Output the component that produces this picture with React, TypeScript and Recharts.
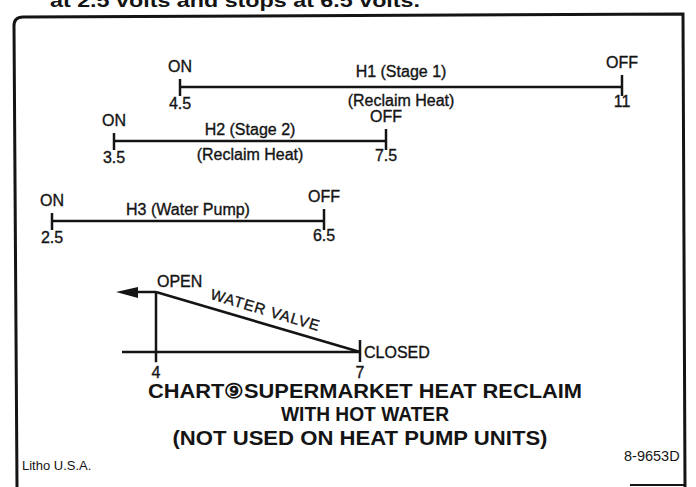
import React from "react";
import { ComposedChart, Line, XAxis, YAxis, ReferenceDot, ReferenceLine } from "recharts";

// stage bars: volts where each stage switches on / off
const stageNames = ["H1 (Stage 1)", "H2 (Stage 2)", "H3 (Water Pump)"];
const stageNotes = ["(Reclaim Heat)", "(Reclaim Heat)", ""];
const stageOn = [4.5, 3.5, 2.5];
const stageOff = [11, 7.5, 6.5];
const stageOnLabels = ["4.5", "3.5", "2.5"];
const stageOffLabels = ["11", "7.5", "6.5"];

// water valve: opening vs volts (1 = open, 0 = closed)
const valveVolts = [4, 7];
const valveOpening = [1, 0];
const valveStates = ["OPEN", "CLOSED"];
const valveTickLabels = ["4", "7"];
const valveAxisStart = 3.5;

const titleLines = [
  "CHART\u2468SUPERMARKET HEAT RECLAIM",
  "WITH HOT WATER",
  "(NOT USED ON HEAT PUMP UNITS)",
];

const FONT = '"Liberation Sans", Arial, Helvetica, sans-serif';
const INK = "#141414";
const VOLTS: [number, number] = [2, 12];
const CHART_W = 680; // 68 px per volt
const ROW_H = 80;

// where each row sits on the sheet (it's a scanned drawing, rows aren't perfectly aligned)
const rowLeft = [10, 12, 18];
const rowTop = [47, 101, 181];

const txt = { fontFamily: FONT, fill: INK, fontSize: 16, stroke: INK, strokeWidth: 0.35 };

const StageRow = ({ i }: { i: number }) => {
  const data = [
    { v: stageOn[i], s: 1 },
    { v: stageOff[i], s: 1 },
  ];
  const mid = (stageOn[i] + stageOff[i]) / 2;

  const renderDot = (p: any) => {
    const { cx, cy, index } = p;
    const isOn = index === 0;
    return (
      <g key={`d${index}`}>
        <line x1={cx} x2={cx} y1={cy - (isOn ? 8 : 12)} y2={cy + 9} stroke={INK} strokeWidth={2.5} />
        <text {...txt} x={cx} y={cy - (isOn ? 15 : 19)} textAnchor="middle">
          {isOn ? "ON" : "OFF"}
        </text>
        <text {...txt} x={cx} y={cy + (isOn ? 22 : 20)} textAnchor="middle">
          {isOn ? stageOnLabels[i] : stageOffLabels[i]}
        </text>
      </g>
    );
  };

  return (
    <div style={{ position: "absolute", left: rowLeft[i], top: rowTop[i] }}>
      <ComposedChart width={CHART_W} height={ROW_H} data={data} margin={{ top: 0, right: 0, left: 0, bottom: 0 }}>
        <XAxis dataKey="v" type="number" domain={VOLTS} hide />
        <YAxis type="number" domain={[0, 2]} hide />
        <Line
          dataKey="s"
          stroke={INK}
          strokeWidth={2.5}
          dot={renderDot}
          activeDot={false}
          isAnimationActive={false}
        />
        <ReferenceDot
          x={mid}
          y={1}
          r={0}
          ifOverflow="visible"
          shape={(p: any) => (
            <g>
              <text {...txt} x={p.cx} y={p.cy - (i === 0 ? 10 : 6)} textAnchor="middle">
                {stageNames[i]}
              </text>
              {stageNotes[i] && (
                <text {...txt} x={p.cx} y={p.cy + 19} textAnchor="middle">
                  {stageNotes[i]}
                </text>
              )}
            </g>
          )}
        />
      </ComposedChart>
    </div>
  );
};

const ValveChart = () => {
  const data = valveVolts.map((v, k) => ({ v, o: valveOpening[k] }));

  const renderDot = (p: any) => {
    const { cx, cy, index } = p;
    if (index === 0) {
      return (
        <g key="open">
          <text {...txt} x={cx + 1} y={cy - 5}>{valveStates[0]}</text>
        </g>
      );
    }
    return (
      <g key="closed">
        <line x1={cx} x2={cx} y1={cy - 12} y2={cy + 10} stroke={INK} strokeWidth={2.5} />
        <text {...txt} x={cx + 4} y={cy + 6}>{valveStates[1]}</text>
      </g>
    );
  };

  return (
    <div style={{ position: "absolute", left: 20, top: 262 }}>
      <ComposedChart width={CHART_W} height={120} data={data} margin={{ top: 0, right: 0, left: 0, bottom: 0 }}>
        <XAxis dataKey="v" type="number" domain={VOLTS} hide />
        <YAxis type="number" domain={[-0.5, 1.5]} hide />
        <ReferenceLine
          segment={[{ x: valveAxisStart, y: 0 }, { x: valveVolts[1], y: 0 }]}
          stroke={INK}
          strokeWidth={2.5}
          ifOverflow="visible"
        />
        <ReferenceLine
          segment={[{ x: valveVolts[0], y: valveOpening[0] }, { x: valveVolts[0], y: -0.17 }]}
          stroke={INK}
          strokeWidth={2.5}
          ifOverflow="visible"
        />
        <ReferenceDot
          x={valveVolts[0]}
          y={valveOpening[0]}
          r={0}
          ifOverflow="visible"
          shape={(p: any) => (
            <g>
              <line x1={p.cx} x2={p.cx - 24} y1={p.cy} y2={p.cy} stroke={INK} strokeWidth={2.5} />
              <polygon
                points={`${p.cx - 40},${p.cy} ${p.cx - 18},${p.cy - 5} ${p.cx - 18},${p.cy + 6}`}
                fill={INK}
              />
            </g>
          )}
        />
        <ReferenceDot
          x={(valveVolts[0] + valveVolts[1]) / 2}
          y={0.5}
          r={0}
          ifOverflow="visible"
          shape={(p: any) => (
            <text
              {...txt}
              fontSize={15}
              x={p.cx + 6}
              y={p.cy - 7}
              textAnchor="middle"
              transform={`rotate(16.6 ${p.cx + 6} ${p.cy - 7})`}
              letterSpacing={1}
            >
              WATER VALVE
            </text>
          )}
        />
        {valveVolts.map((v, k) => (
          <ReferenceDot
            key={v}
            x={v}
            y={0}
            r={0}
            ifOverflow="visible"
            shape={(p: any) => (
              <text {...txt} x={p.cx} y={p.cy + 26} textAnchor="middle">
                {valveTickLabels[k]}
              </text>
            )}
          />
        ))}
        <Line
          dataKey="o"
          stroke={INK}
          strokeWidth={2.5}
          dot={renderDot}
          activeDot={false}
          isAnimationActive={false}
        />
      </ComposedChart>
    </div>
  );
};

export default function App() {
  const title = { fontFamily: FONT, fontWeight: "bold" as const, fontSize: 20, fill: INK, lengthAdjust: "spacingAndGlyphs" as const };
  return (
    <div style={{ position: "fixed", left: 0, top: 0, width: 696, height: 487, background: "#fff", overflow: "hidden" }}>
      <svg width={696} height={487} style={{ position: "absolute", left: 0, top: 0 }}>
        <text x={50} y={7} fontFamily={FONT} fontWeight="bold" fontSize={19} fill={INK} textLength={370} lengthAdjust="spacingAndGlyphs">
          at 2.5 volts and stops at 6.5 volts.
        </text>
        <path d="M 17 487 L 14 26 Q 14 17 23 17 L 683 14 L 685 487" fill="none" stroke={INK} strokeWidth={3} />
        <line x1={630} x2={685} y1={485} y2={485} stroke={INK} strokeWidth={2} />
        <text {...title} x={365} y={398} textAnchor="middle" textLength={434}>
          {titleLines[0]}
        </text>
        <text {...title} x={365} y={421} textAnchor="middle" textLength={168}>
          {titleLines[1]}
        </text>
        <text {...title} x={360} y={445} textAnchor="middle" textLength={375}>
          {titleLines[2]}
        </text>
        <text x={22} y={470} fontFamily={FONT} fontSize={13} fill={INK}>Litho U.S.A.</text>
        <text x={624} y={461} fontFamily={FONT} fontSize={14.5} fill={INK}>8-9653D</text>
      </svg>
      {stageNames.map((_, i) => (
        <StageRow key={i} i={i} />
      ))}
      <ValveChart />
    </div>
  );
}
